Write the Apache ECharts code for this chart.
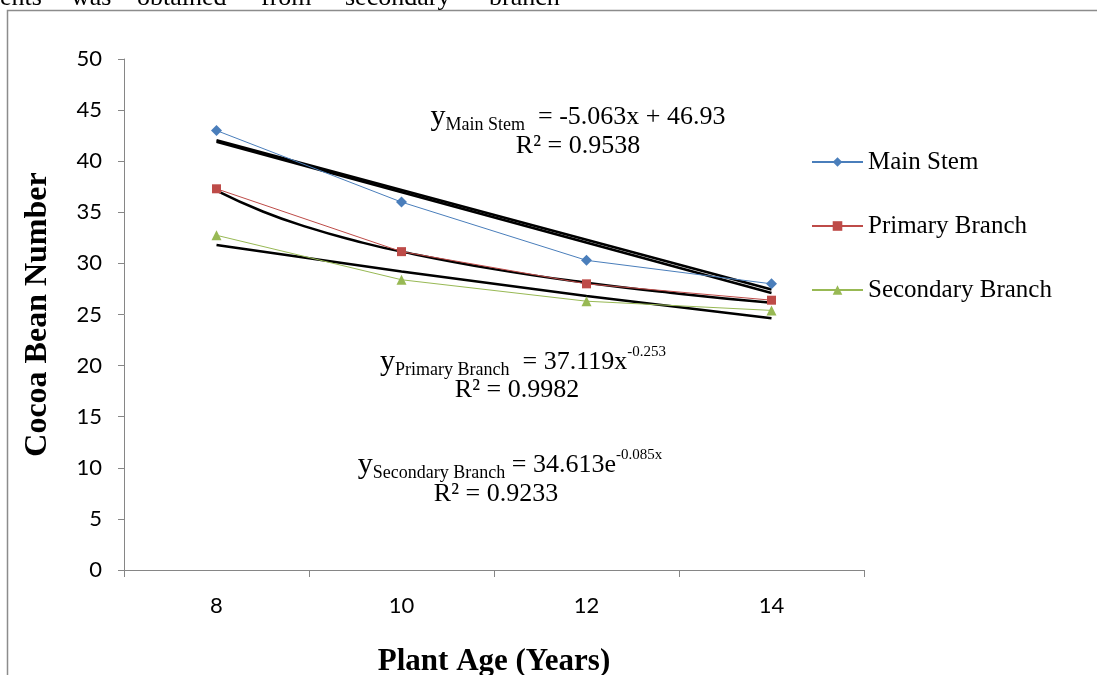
<!DOCTYPE html>
<html>
<head>
<meta charset="utf-8">
<script src="https://cdn.jsdelivr.net/npm/echarts@6/dist/echarts.min.js"></script>
<style>
html,body{margin:0;padding:0;background:#fff;overflow:hidden;}
#chart{width:1097px;height:675px;}
</style>
</head>
<body>
<div id="chart"></div>
<script>
// ---- data ----
var categories = ['8', '10', '12', '14'];
var mainStem = [43.0, 36.0, 30.3, 28.0];
var primaryBranch = [37.3, 31.15, 28.0, 26.4];
var secondaryBranch = [32.75, 28.4, 26.3, 25.4];
var trendMainA = [[1, 42.05], [4, 27.45]];
var trendMainB = [[1, 41.9], [4, 27.1]];
var trendPrimary = [[1, 37.12], [1.25, 35.08], [1.5, 33.5], [1.75, 32.22], [2, 31.15], [2.5, 29.44], [3, 28.11], [3.5, 27.04], [4, 26.14]];
var trendSecondary = [[1, 31.79], [2, 29.2], [3, 26.82], [4, 24.64]];
var yTicks = [0, 50, 5];
var seriesNames = ['Main Stem', 'Primary Branch', 'Secondary Branch'];
var topWords = ['ents', 'was', 'obtained', 'from', 'secondary', 'branch'];

var serif = '"Liberation Serif", "Times New Roman", serif';
var sans = 'Lato, "Open Sans", sans-serif';

var eqRich = {
  y: {fontFamily: serif, fontSize: 30, lineHeight: 34, verticalAlign: 'middle', fill: '#000'},
  sub: {fontFamily: serif, fontSize: 18, lineHeight: 20, verticalAlign: 'bottom', fill: '#000'},
  sup: {fontFamily: serif, fontSize: 15, lineHeight: 12, verticalAlign: 'top', fill: '#000'},
  eq: {fontFamily: serif, fontSize: 26, lineHeight: 34, verticalAlign: 'middle', fill: '#000'}
};
function eqText(txt, x, y) {
  return {type: 'text', x: x, y: y, z: 10,
    style: {text: txt, rich: eqRich, align: 'center', verticalAlign: 'middle', fill: '#000'}};
}
function plainText(txt, x, y, size) {
  return {type: 'text', x: x, y: y, z: 10,
    style: {text: txt, font: size + 'px ' + serif, align: 'center', verticalAlign: 'middle', fill: '#000'}};
}
var topX = [0, 71, 137, 261, 345, 489];
var graphics = [
  {type: 'rect', shape: {x: 7.5, y: 10.5, width: 1300, height: 900},
   style: {fill: 'none', stroke: '#8c8c8c', lineWidth: 1.5}, silent: true}
];
topWords.forEach(function (w, i) {
  graphics.push({type: 'text', x: topX[i], y: -2,
    style: {text: w, font: '26px ' + serif, align: 'left', verticalAlign: 'middle', fill: '#000'}});
});
graphics.push(eqText('{y|y}{sub|Main Stem}{eq|  = -5.063x + 46.93}', 578, 117));
graphics.push(plainText('R² = 0.9538', 578, 146, 26));
graphics.push(eqText('{y|y}{sub|Primary Branch}{eq|  = 37.119x}{sup|-0.253}', 523, 362));
graphics.push(plainText('R² = 0.9982', 517, 390, 26));
graphics.push(eqText('{y|y}{sub|Secondary Branch}{eq| = 34.613e}{sup|-0.085x}', 510, 465));
graphics.push(plainText('R² = 0.9233', 496, 494, 26));

function trend(data, smooth) {
  return {type: 'line', xAxisIndex: 1, yAxisIndex: 0, data: data, smooth: smooth,
    symbol: 'none', showSymbol: false, silent: true, z: 3,
    lineStyle: {color: '#000', width: 2.5}, itemStyle: {color: '#000'}};
}

var chart = echarts.init(document.getElementById('chart'), null, {renderer: 'canvas', width: 1097, height: 675});
chart.setOption({
  animation: false,
  backgroundColor: '#fff',
  grid: {left: 124, width: 740, top: 59, height: 511, containLabel: false, outerBoundsMode: 'none'},
  legend: {
    data: seriesNames, orient: 'vertical', left: 806, top: 144,
    itemWidth: 51, itemHeight: 12, itemGap: 38,
    textStyle: {fontFamily: serif, fontSize: 25, lineHeight: 26, color: '#000'}
  },
  xAxis: [{
    type: 'category', data: categories, boundaryGap: true,
    axisLine: {lineStyle: {color: '#868686', width: 1}},
    axisTick: {show: true, length: 7, lineStyle: {color: '#868686'}},
    axisLabel: {fontFamily: sans, fontSize: 22, color: '#000', margin: 25},
    splitLine: {show: false},
    name: 'Plant Age (Years)', nameLocation: 'middle', nameGap: 76,
    nameTextStyle: {fontFamily: serif, fontSize: 31, fontWeight: 'bold', color: '#000'}
  }, {
    type: 'value', min: 0.5, max: 4.5, show: false
  }],
  yAxis: [{
    type: 'value', min: yTicks[0], max: yTicks[1], interval: yTicks[2],
    axisLine: {show: true, lineStyle: {color: '#868686', width: 1}},
    axisTick: {show: true, length: 6, lineStyle: {color: '#868686'}},
    axisLabel: {fontFamily: sans, fontSize: 22, color: '#000', margin: 22},
    splitLine: {show: false},
    name: 'Cocoa Bean Number', nameLocation: 'middle', nameGap: 70, nameRotate: 90,
    nameTextStyle: {fontFamily: serif, fontSize: 32, fontWeight: 'bold', color: '#000'}
  }],
  graphic: graphics,
  series: [
    {name: seriesNames[0], type: 'line', data: mainStem, symbol: 'diamond', symbolSize: 11, z: 4,
     lineStyle: {color: '#4A7EBB', width: 1}, itemStyle: {color: '#4A7EBB'}},
    {name: seriesNames[1], type: 'line', data: primaryBranch, symbol: 'rect', symbolSize: 9, z: 4,
     lineStyle: {color: '#BE4B48', width: 1}, itemStyle: {color: '#BE4B48'}},
    {name: seriesNames[2], type: 'line', data: secondaryBranch, symbol: 'triangle', symbolSize: 10, z: 4,
     lineStyle: {color: '#98B954', width: 1}, itemStyle: {color: '#98B954'}},
    trend(trendMainA, false),
    trend(trendMainB, false),
    trend(trendPrimary, true),
    trend(trendSecondary, false)
  ]
});
</script>
</body>
</html>
